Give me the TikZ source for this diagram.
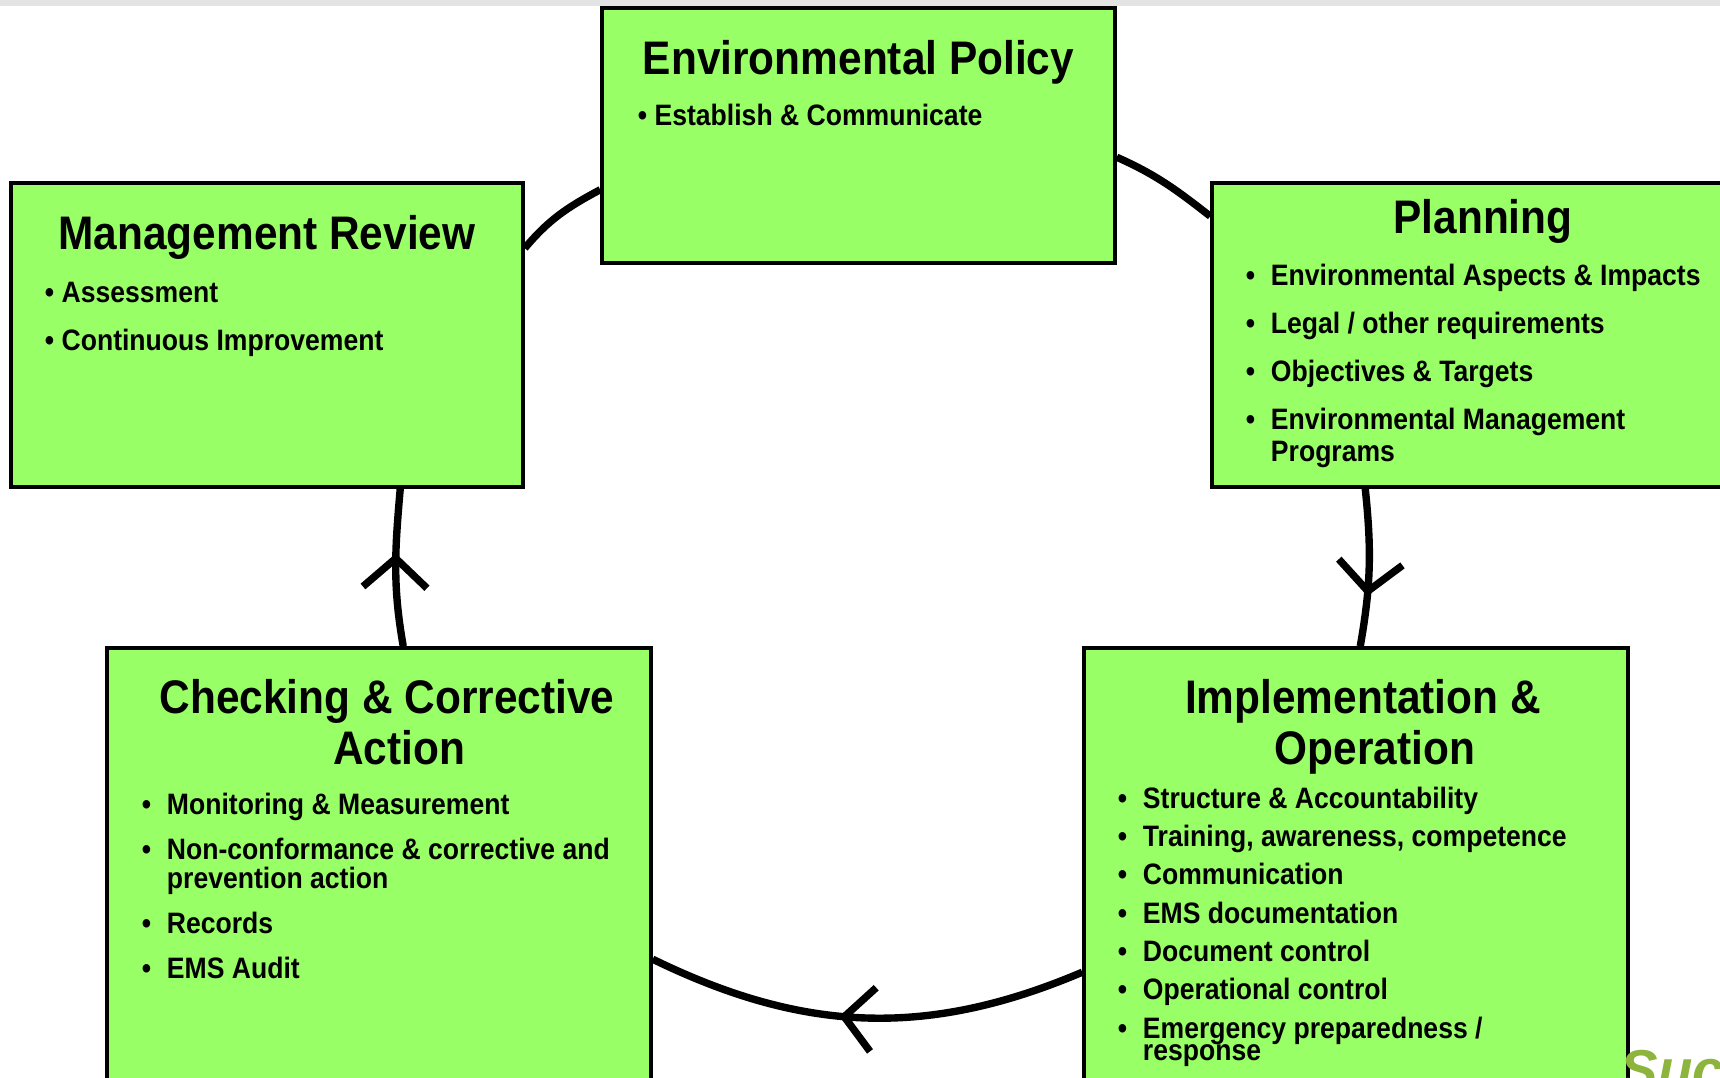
\documentclass[tikz,border=0pt]{standalone}
\usepackage{fontspec}
\setmainfont{Liberation Sans}[FakeStretch=0.9]
\newfontfamily\logofont{Liberation Sans}
\usepackage{tikz}
\usetikzlibrary{arrows.meta, positioning, decorations.markings, backgrounds}
\definecolor{leaf}{HTML}{99FF66}
\definecolor{logo}{HTML}{8DB43C}
\tikzstyle{panel} = [rectangle, draw, fill=leaf, line width=1pt, inner sep=0pt]
\tikzstyle{heading} = [anchor=base, inner sep=0pt]
\tikzstyle{bullets} = [anchor=base west, inner sep=0pt]
\tikzstyle{loopline} = [draw, line width=2.1pt]
\tikzset{midarrow/.style={postaction={decorate}, decoration={markings,
  mark=at position #1 with {\arrow{Straight Barb[length=2.9mm, width=6.4mm, line width=2.1pt, sharp]}}}}}
\newcommand{\headtext}[1]{\parbox[t]{5.4cm}{\centering\fontsize{13.4}{14.5}\selectfont\bfseries #1}}
\newcommand{\listtext}[2]{\parbox[t]{5.2cm}{\raggedright\fontsize{8.4}{#1}\selectfont\bfseries\lineskiplimit=-50pt #2}}
\newcommand{\bul}{\makebox[0.25cm][l]{\textbullet}}
\newcommand{\nxt}{\\[4.6pt]}
\newcommand{\wrap}{\\\hspace*{0.25cm}}

\begin{document}
\begin{tikzpicture}
    \useasboundingbox (0,0) rectangle (17.2,10.78);
    \clip (0,0) rectangle (17.2,10.78);
    \fill [gray!22] (0,10.72) rectangle (17.2,10.78);

    \node [panel, minimum width=5.13cm, minimum height=2.55cm] (policy) at (8.585,9.425) {};
    \node [panel, minimum width=5.42cm, minimum height=3.04cm] (planning) at (14.83,7.43) {};
    \node [panel, minimum width=5.12cm, minimum height=3.04cm] (review) at (2.67,7.43) {};
    \node [panel, minimum width=5.44cm, minimum height=4.9cm] (checking) at (3.79,1.85) {};
    \node [panel, minimum width=5.44cm, minimum height=4.9cm] (impl) at (13.56,1.85) {};

    \node [heading] (policyhead) at ([yshift=-0.68cm]policy.north) {\headtext{Environmental Policy}};
    \node [heading] (planhead) at ([yshift=-0.52cm]planning.north) {\headtext{Planning}};
    \node [heading] (reviewhead) at ([yshift=-0.68cm]review.north) {\headtext{Management Review}};
    \node [heading] (checkhead) at ([xshift=0.08cm, yshift=-0.67cm]checking.north) {\headtext{Checking \& Corrective\\\hspace*{0.24cm}Action}};
    \node [heading] (implhead) at ([xshift=0.07cm, yshift=-0.67cm]impl.north) {\headtext{Implementation \&\\\hspace*{0.24cm}Operation}};

    \node [bullets] (policylist) at ([xshift=0.37cm, yshift=-1.19cm]policy.north west)
      {\listtext{9pt}{\textbullet\ Establish \& Communicate}};
    \node [bullets] (reviewlist) at ([xshift=0.35cm, yshift=-1.21cm]review.north west)
      {\listtext{9.1pt}{\textbullet\ Assessment\nxt \textbullet\ Continuous Improvement}};
    \node [bullets] (planlist) at ([xshift=0.35cm, yshift=-1.04cm]planning.north west)
      {\listtext{9.1pt}{\bul Environmental Aspects \& Impacts\nxt \bul Legal / other requirements\nxt
        \bul Objectives \& Targets\nxt \bul Environmental Management\wrap Programs}};
    \node [bullets] (checklist) at ([xshift=0.36cm, yshift=-1.68cm]checking.north west)
      {\listtext{8.2pt}{\bul Monitoring \& Measurement\nxt \bul Non-conformance \& corrective and\wrap prevention action\nxt
        \bul Records\nxt \bul EMS Audit}};
    \node [bullets] (impllist) at ([xshift=0.35cm, yshift=-1.62cm]impl.north west)
      {\listtext{6.3pt}{\bul Structure \& Accountability\nxt \bul Training, awareness, competence\nxt
        \bul Communication\nxt \bul EMS documentation\nxt \bul Document control\nxt
        \bul Operational control\nxt \bul Emergency preparedness /\wrap response}};

    \node [anchor=base west, inner sep=0pt, text=logo, font=\logofont\fontsize{16}{16}\selectfont\bfseries\itshape] (logotext) at (16.2,-0.12) {Suc};

    \begin{scope}[on background layer]
      \path [loopline] ([yshift=-0.67cm]review.north east) to[out=50, in=-152] ([yshift=0.75cm]policy.south west);
      \path [loopline] ([yshift=-1.51cm]policy.north east) to[out=-24, in=142] ([yshift=-0.35cm]planning.north west);
      \path [loopline, midarrow=0.68] ([xshift=1.55cm]planning.south west) to[out=-84, in=80] ([xshift=2.78cm]impl.north west);
      \path [loopline, midarrow=0.56] ([yshift=-3.26cm]impl.north west) to[out=-157, in=-26] ([yshift=-3.13cm]checking.north east);
      \path [loopline, midarrow=0.59] ([xshift=2.98cm]checking.north west) to[out=100, in=-95] ([xshift=3.91cm]review.south west);
    \end{scope}
\end{tikzpicture}
\end{document}
